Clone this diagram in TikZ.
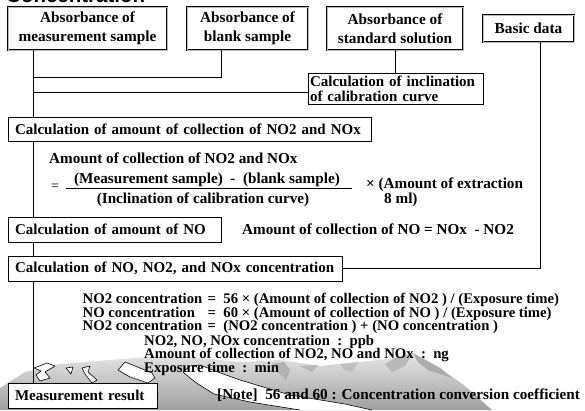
\documentclass[tikz,border=0pt]{standalone}
\usepackage{fontspec}
\setmainfont{Liberation Serif}
\newfontfamily\headfont{Liberation Sans}
\usetikzlibrary{calc}
\begin{document}
\begin{tikzpicture}[x=1pt,y=-1pt,
  txt/.style={font=\fontsize{15.2}{15}\selectfont\bfseries, inner sep=0pt},
  ctxt/.style={font=\fontsize{14.7}{14}\selectfont\bfseries, inner sep=0pt},
  plainbox/.style={draw, line width=0.7pt, fill=white, inner ysep=0pt, inner xsep=7pt,
    align=left, font=\fontsize{15}{15}\selectfont\bfseries},
  dbox/.style={draw, line width=0.6pt, double=gray!55, double distance=0.9pt, fill=white,
    inner sep=0pt, align=center, font=\fontsize{15.3}{19}\selectfont\bfseries},
  conn/.style={line width=0.8pt},
  snow/.style={fill=white, draw=black, line width=0.6pt, line join=round}
]
\useasboundingbox (0,0) rectangle (585,410);
\clip (0,0) rectangle (585,410);

% heading, mostly above the page edge
\node[anchor=base west, inner sep=0pt, font=\headfont\bfseries\fontsize{20.5}{20.5}\selectfont]
  (title) at (6,2.5) {Concentration};

% ---- mountain backdrop ----
\shade[top color=gray!20, bottom color=gray!75]
  (0,410) -- (0,388) -- (25,372) -- (60,364) -- (110,360) -- (160,356) -- (200,358)
  -- (240,362) -- (280,360) -- (320,366) -- (360,362) -- (395,358) -- (413,353)
  -- (440,368) -- (465,386) -- (492,410) -- cycle;
% darker rock faces
\fill[gray!65] (413,353) -- (440,368) -- (452,378) -- (428,370) -- (418,362) -- cycle;
\fill[gray!55] (395,358) -- (413,353) -- (405,366) -- (392,372) -- (385,364) -- cycle;
\fill[gray!60] (272,364) -- (284,362) -- (290,370) -- (286,380) -- (278,372) -- cycle;
\fill[gray!55] (300,366) -- (318,365) -- (312,372) -- cycle;
\fill[gray!50] (340,364) -- (358,362) -- (352,372) -- (344,370) -- cycle;
% snow patches
\filldraw[snow] (34,368) -- (47,363) -- (55,366) -- (45,372) -- (50,378) -- (40,381)
  -- (36,375) -- (41,371) -- cycle;
\filldraw[snow] (66,368) -- (73,367) -- (71,374) -- cycle;
\filldraw[snow] (82,368) -- (90,366) -- (88,372) -- (97,380) -- (92,383) -- (85,374) -- cycle;
\filldraw[snow] (118,370) -- (125,362) -- (140,368) -- (152,373) -- (155,378)
  -- (148,383) -- (130,377) -- cycle;
\fill[white] (183,372) -- (190,366) -- (200,365) -- (218,372) -- (240,380) -- (290,395)
  -- (345,404) -- (372,410) -- (300,410) -- (250,402) -- (214,394) -- (198,384)
  -- (190,378) -- cycle;
\draw[line width=0.6pt, line join=round] (183,372) -- (190,366) -- (200,365) -- (218,372)
  -- (240,380) -- (290,395) -- (345,404) -- (372,410);
\draw[line width=0.6pt, line join=round] (183,372) -- (190,378) -- (198,384) -- (214,394)
  -- (250,402) -- (300,410);

% ---- boxes ----
\node[dbox, minimum width=159pt, minimum height=43pt] (m) at (87.5,28.5)
  {Absorbance of\\measurement sample};
\node[dbox, minimum width=121pt, minimum height=43pt] (b) at (247.5,28.5)
  {Absorbance of\\blank sample};
\node[dbox, minimum width=136pt, minimum height=43pt] (s) at (395,28.5)
  {Absorbance of\\standard solution};
\node[dbox, minimum width=91pt, minimum height=27pt] (d) at (528.5,28.5) {Basic data};

\node[plainbox, inner xsep=2pt, text width=171pt, minimum height=31pt] (incl) at (395.5,88.5)
  {Calculation of inclination\\of calibration curve};

\node[plainbox, text width=349pt, minimum height=24pt] (c1) at (189.5,129)
  {Calculation of amount of collection of NO2 and NOx};
\node[plainbox, text width=199pt, minimum height=25pt] (c2) at (114.5,229.5)
  {Calculation of amount of NO};
\node[plainbox, text width=320pt, minimum height=25pt] (c3) at (175,268.5)
  {Calculation of NO, NO2, and NOx concentration};
\node[plainbox, text width=135.5pt, minimum height=25pt] (res) at (82.75,395.5)
  {Measurement result};

% ---- connectors ----
\coordinate (tx) at (33,0);
\coordinate (bx) at (221,0);
\coordinate (dx) at (540,0);
\coordinate (j1) at (33,77);
\coordinate (j2) at (33,92);

\draw[conn] (m.south -| tx) -- (c1.north -| tx);
\draw[conn] (c1.south -| tx) -- (c2.north -| tx);
\draw[conn] (c2.south -| tx) -- (c3.north -| tx);
\draw[conn] (c3.south -| tx) -- (res.north -| tx);
\draw[conn] (b.south -| bx) |- (j1);
\draw[conn] (j2) -- (incl.west |- j2);
\draw[conn] (s.south) -- (incl.north -| s.south);
\draw[conn] (d.south -| dx) |- (c3.east);

% ---- formula for the amount of collection ----
\node[txt, anchor=base west] (f0) at (49,163.5) {Amount of collection of NO2 and NOx};
\node[inner sep=0pt, anchor=base west, font=\fontsize{14}{14}\selectfont] (eq) at (51,190.5) {=};
\node[txt, anchor=base] (num) at (207,183) {(Measurement sample)\ \ -\ \ (blank sample)};
\coordinate (barl) at (66,188);
\coordinate (barr) at (352,188);
\draw[line width=0.8pt] (barl) -- (barr);
\node[txt, anchor=base] (den) at (203,203.5) {(Inclination of calibration curve)};
\node[txt, anchor=base west] (f1) at (366,188.5) {× (Amount of extraction};
\node[txt, anchor=base west] (f2) at (384,203.5) {8 ml)};

\node[txt, anchor=base west] (no) at (242,234.5) {Amount of collection of NO = NOx\ \ - NO2};

% ---- concentration formulas ----
\node[ctxt, anchor=base west] (k1) at (82.5,303.5)
  {\makebox[125pt][l]{NO2 concentration}=\ \ 56\ × (Amount of collection of NO2 ) / (Exposure time)};
\node[ctxt, anchor=base west] (k2) at (82.5,317)
  {\makebox[125pt][l]{NO concentration}=\ \ 60\ × (Amount of collection of NO ) / (Exposure time)};
\node[ctxt, anchor=base west] (k3) at (82.5,330.5)
  {\makebox[125pt][l]{NO2 concentration}=\ \ (NO2 concentration ) + (NO concentration )};
\node[ctxt, anchor=base west] (u1) at (144,345) {NO2, NO, NOx concentration\ \ :\ \ ppb};
\node[ctxt, anchor=base west] (u2) at (144,358.5) {Amount of collection of NO2, NO and NOx\ \ :\ \ ng};
\node[ctxt, anchor=base west] (u3) at (144,372) {Exposure time\ \ :\ \ min};

\node[txt, anchor=base west] (note) at (217,399.5)
  {[Note]\ \ 56 and 60 : Concentration conversion coefficient};
\end{tikzpicture}
\end{document}
